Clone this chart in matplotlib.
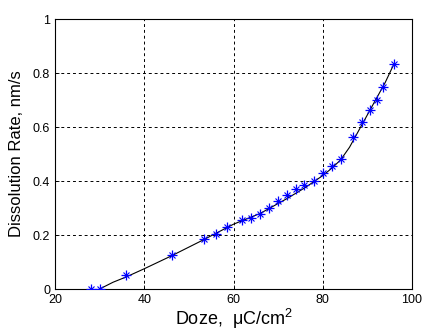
import matplotlib
matplotlib.use('Agg')
import matplotlib.pyplot as plt

# measured points
doze = [28.0, 30.1, 35.9, 46.2, 53.3, 56.1, 58.5, 61.8, 64.0, 66.0, 67.9, 70.0,
        72.0, 74.0, 75.9, 78.1, 80.0, 82.0, 84.2, 86.7, 88.9, 90.5, 92.1, 93.6, 96.0]
rate = [0.0, 0.0, 0.053, 0.125, 0.186, 0.205, 0.228, 0.254, 0.263, 0.278, 0.300, 0.325,
        0.349, 0.370, 0.385, 0.401, 0.430, 0.454, 0.481, 0.562, 0.617, 0.664, 0.701, 0.747, 0.835]

# fitted curve
fit_x = [30, 33, 36, 40, 46, 53, 60, 66, 72, 76, 80, 82, 84, 86, 88, 90, 92, 94, 96]
fit_y = [0.0, 0.025, 0.045, 0.075, 0.122, 0.18, 0.24, 0.28, 0.335, 0.375, 0.42, 0.447,
         0.478, 0.525, 0.585, 0.645, 0.705, 0.765, 0.835]

xticks = [20, 40, 60, 80, 100]
yticks = [0, 0.2, 0.4, 0.6, 0.8, 1]
ylabels = ['0', '0.2', '0.4', '0.6', '0.8', '1']

plt.rcParams['font.family'] = ['Liberation Sans', 'DejaVu Sans']

fig = plt.figure(figsize=(4.25, 3.33), dpi=100)
ax = fig.add_axes([55 / 425, 44 / 333, 357 / 425, 270 / 333])

ax.plot(fit_x, fit_y, color='black', lw=0.8, zorder=2)
# matlab style asterisk: plus + x
ax.plot(doze, rate, ls='none', marker='+', color='blue', ms=6.5, mew=0.9, zorder=3)
ax.plot(doze, rate, ls='none', marker='x', color='blue', ms=4.5, mew=0.8, zorder=3)

ax.set_xlim(20, 100)
ax.set_ylim(0, 1)
ax.set_xticks(xticks)
ax.set_yticks(yticks)
ax.set_yticklabels(ylabels)
ax.tick_params(direction='in', length=3, labelsize=9, width=0.6)
ax.grid(True, color='black', ls=(0, (3, 3)), lw=0.7)
for s in ax.spines.values():
    s.set_linewidth(0.8)

ax.set_xlabel('Doze,  \u03bcC/cm$\\mathregular{^2}$', fontsize=13, labelpad=1)
ax.set_ylabel('Dissolution Rate, nm/s', fontsize=12, labelpad=6)

fig.savefig('out.png', dpi=100)
